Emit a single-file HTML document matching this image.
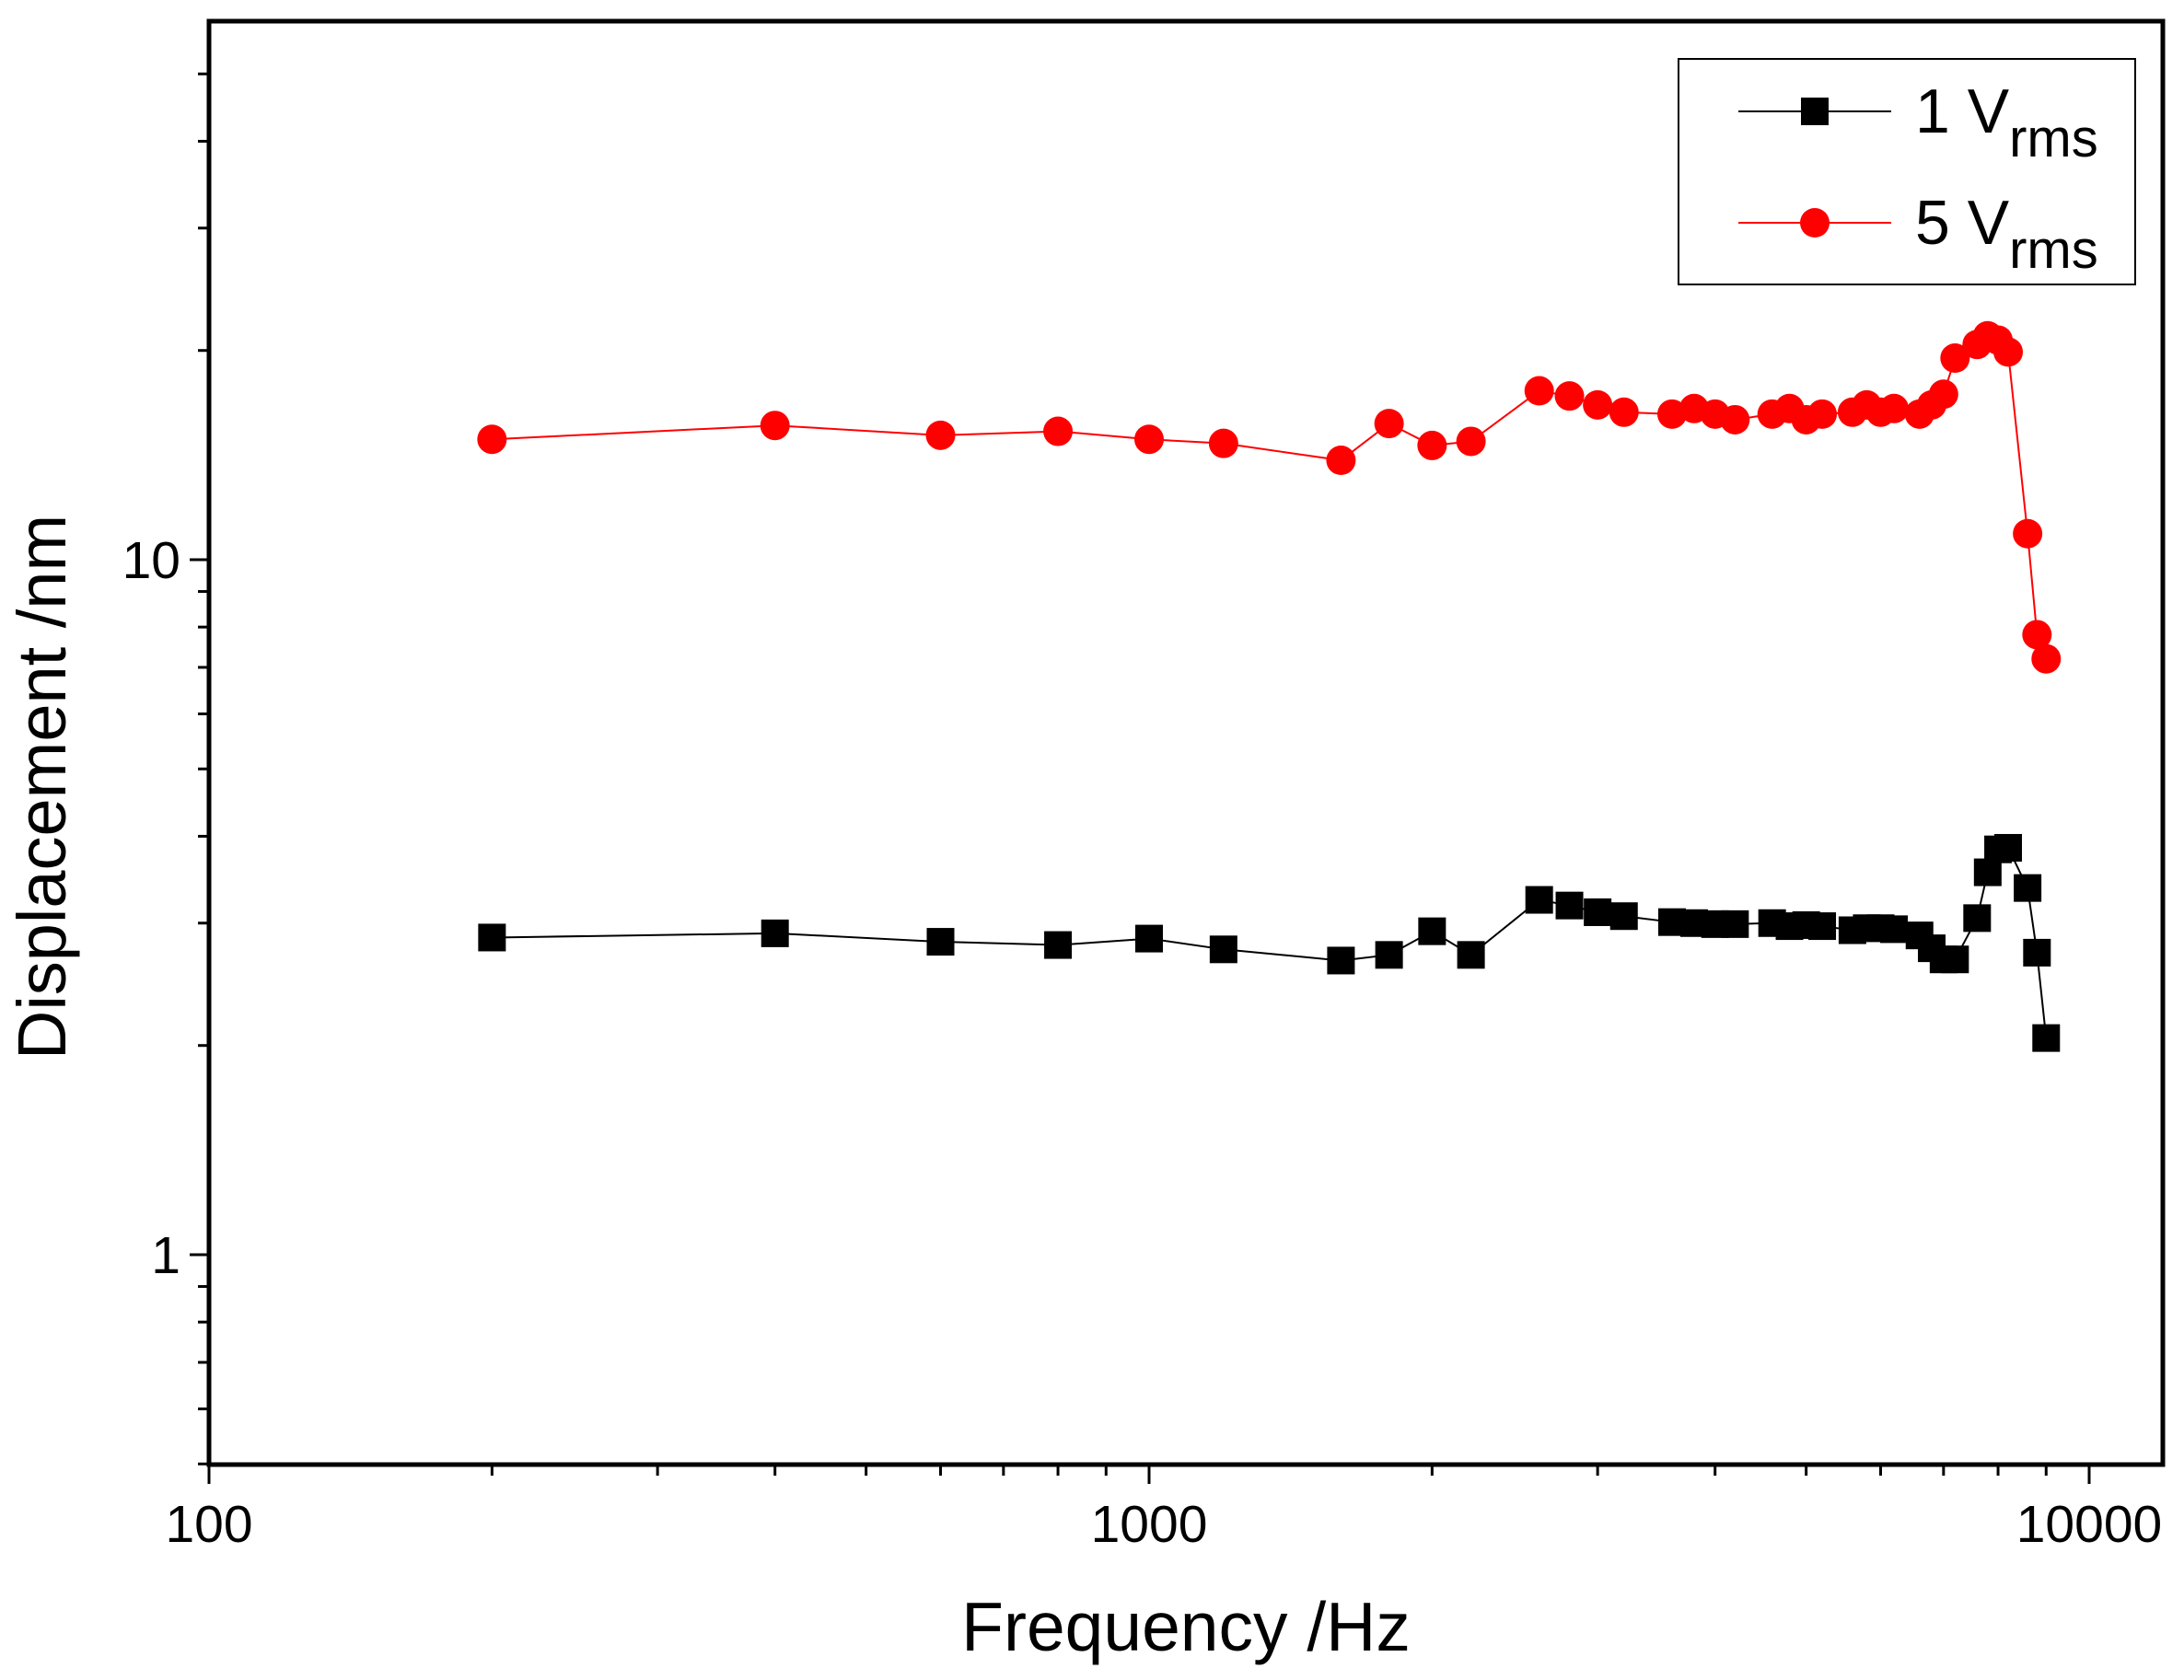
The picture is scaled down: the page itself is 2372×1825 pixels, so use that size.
<!DOCTYPE html>
<html><head><meta charset="utf-8"><style>
html,body{margin:0;padding:0;background:#fff;}
svg{display:block;font-family:"Liberation Sans",Arial,sans-serif;}
</style></head><body>
<svg id="chart" width="2372" height="1825" viewBox="0 0 2372 1825">
<g id="grid"></g>
<g id="series"></g>
<rect x="227" y="23" width="2122" height="1568" fill="none" stroke="#000" stroke-width="5"/>
<text x="1288" y="1793" font-size="75" text-anchor="middle">Frequency /Hz</text>
<text transform="translate(71,855) rotate(-90)" font-size="74" text-anchor="middle">Displacement /nm</text>
<g>
<rect x="1823" y="64" width="496" height="245" fill="#fff" stroke="#000" stroke-width="2"/>
<g>
<line x1="1888" y1="121" x2="2054" y2="121" stroke="#000" stroke-width="2"/>
<rect x="1956" y="106" width="30" height="30" fill="#000"/>
<text x="2080" y="144" font-size="68">1 V<tspan font-size="58" dy="26">rms</tspan></text>
</g>
<g>
<line x1="1888" y1="242" x2="2054" y2="242" stroke="#f00" stroke-width="2"/>
<circle cx="1971" cy="242" r="16" fill="#f00"/>
<text x="2080" y="265" font-size="68">5 V<tspan font-size="58" dy="26">rms</tspan></text>
</g>
</g>
</svg>
<script>
const freqs=[200,400,600,800,1000,1200,1600,1800,2000,2200,2600,2800,3000,3200,3600,3800,4000,4200,4600,4800,5000,5200,5600,5800,6000,6200,6600,6800,7000,7200,7600,7800,8000,8200,8600,8800,9000];
const series5V=[14.9,15.6,15.1,15.3,14.9,14.7,13.9,15.7,14.6,14.8,17.5,17.2,16.7,16.3,16.2,16.5,16.2,15.9,16.2,16.5,15.9,16.2,16.3,16.7,16.3,16.5,16.2,16.7,17.3,19.5,20.4,21.0,20.7,19.9,10.9,7.8,7.2];
const series1V=[2.86,2.90,2.82,2.79,2.85,2.75,2.65,2.70,2.92,2.70,3.24,3.18,3.11,3.07,3.01,3.00,2.99,2.99,3.00,2.97,2.98,2.97,2.93,2.95,2.95,2.94,2.88,2.76,2.66,2.66,3.05,3.55,3.83,3.85,3.37,2.72,2.05];
const xTickLabels=["100","1000","10000"];
const yTickLabels=["1","10"];
const NS="http://www.w3.org/2000/svg";
const X0=227,XDEC=1021,Y1=1363,YDEC=755;
function xs(f){return X0+(Math.log10(f)-2)*XDEC;}
function ys(v){return Y1-Math.log10(v)*YDEC;}
function mk(tag,attrs,parent){const e=document.createElementNS(NS,tag);for(const k in attrs)e.setAttribute(k,attrs[k]);parent.appendChild(e);return e;}
const ax=document.getElementById('grid');
for(let d=100;d<=10000;d*=10){for(let m=1;m<=9;m++){const f=d*m;if(f>10000&&m>1)break;const x=xs(f);if(x>2349)continue;const L=m===1?21:12;
const t=mk('line',{x1:x,y1:1591,x2:x,y2:1591+L,stroke:'#000','stroke-width':3},ax);

}}
xTickLabels.forEach(s=>{const t=mk('text',{x:xs(+s),y:1675,'font-size':57,'text-anchor':'middle'},ax);t.textContent=s;

});
[0.5,0.6,0.7,0.8,0.9,1,2,3,4,5,6,7,8,9,10,20,30,40,50].forEach(v=>{const y=ys(v);if(y>1591||y<23)return;const major=(v===1||v===10);
const t=mk('line',{x1:227,y1:y,x2:227-(major?21:12),y2:y,stroke:'#000','stroke-width':3},ax);

});
yTickLabels.forEach(s=>{const t=mk('text',{x:196,y:ys(+s)+20,'font-size':57,'text-anchor':'end'},ax);t.textContent=s;

});
const sg=document.getElementById('series');
function draw(vals,color,shape,name){
const g=mk('g',{},sg);


const pts=freqs.map((f,i)=>xs(f)+','+ys(vals[i])).join(' ');
const pl=mk('polyline',{points:pts,fill:'none',stroke:color,'stroke-width':2},g);


freqs.forEach((f,i)=>{let m;
if(shape==='sq')m=mk('rect',{x:xs(f)-15,y:ys(vals[i])-15,width:30,height:30,fill:color},g);
else m=mk('circle',{cx:xs(f),cy:ys(vals[i]),r:16,fill:color},g);

});}
draw(series1V,'#000','sq','series-1vrms');
draw(series5V,'#f00','ci','series-5vrms');
</script>
</body></html>
